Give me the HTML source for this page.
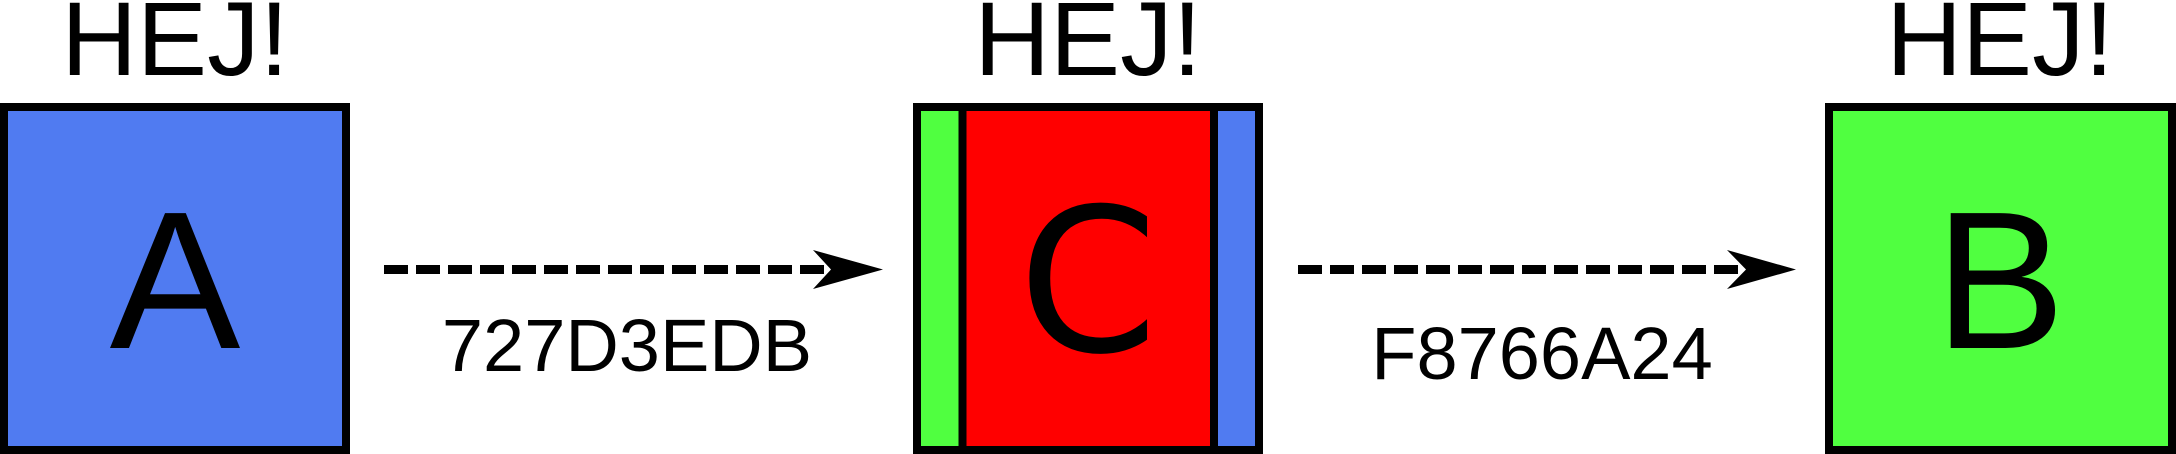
<!DOCTYPE html>
<html><head><meta charset="utf-8"><style>
html,body{margin:0;padding:0;background:#fff;}
svg{display:block;}
text{font-family:"Liberation Sans",sans-serif;}
</style></head><body>
<svg width="2176" height="454" viewBox="0 0 2176 454">
  <!-- Box A -->
  <g>
    <rect x="4" y="107" width="342" height="343" fill="#507bf1" stroke="#000" stroke-width="8"/>
    <text x="175" y="348" font-size="196" text-anchor="middle">A</text>
  </g>
  <text x="175" y="75" font-size="105" text-anchor="middle">HEJ!</text>

  <!-- Box C -->
  <g>
    <rect x="917" y="107" width="46" height="343" fill="#50ff40"/>
    <rect x="963" y="107" width="251" height="343" fill="#ff0000"/>
    <rect x="1214" y="107" width="45" height="343" fill="#507bf1"/>
    <line x1="962.5" y1="107" x2="962.5" y2="450" stroke="#000" stroke-width="8"/>
    <line x1="1214" y1="107" x2="1214" y2="450" stroke="#000" stroke-width="8"/>
    <rect x="917" y="107" width="342" height="343" fill="none" stroke="#000" stroke-width="8"/>
    <text x="1088" y="351" font-size="200" text-anchor="middle" style="font-family:'DejaVu Sans',sans-serif">C</text>
  </g>
  <text x="1088" y="75" font-size="105" text-anchor="middle">HEJ!</text>

  <!-- Box B -->
  <g>
    <rect x="1829" y="107" width="343" height="343" fill="#50ff40" stroke="#000" stroke-width="8"/>
    <text x="2000" y="348" font-size="196" text-anchor="middle">B</text>
  </g>
  <text x="2000" y="75" font-size="105" text-anchor="middle">HEJ!</text>

  <!-- Arrow 1 -->
  <g>
    <line x1="384" y1="269.5" x2="828" y2="269.5" stroke="#000" stroke-width="9" stroke-dasharray="24 8"/>
    <polygon points="813,250 883,269.5 813,289 831,269.5" fill="#000"/>
  </g>
  <text x="627" y="371" font-size="74" text-anchor="middle">727D3EDB</text>

  <!-- Arrow 2 -->
  <g>
    <line x1="1298" y1="269.5" x2="1742" y2="269.5" stroke="#000" stroke-width="9" stroke-dasharray="24 8"/>
    <polygon points="1727,250 1796,269.5 1727,289 1746,269.5" fill="#000"/>
  </g>
  <text x="1542" y="379" font-size="74" text-anchor="middle">F8766A24</text>
</svg>
</body></html>
